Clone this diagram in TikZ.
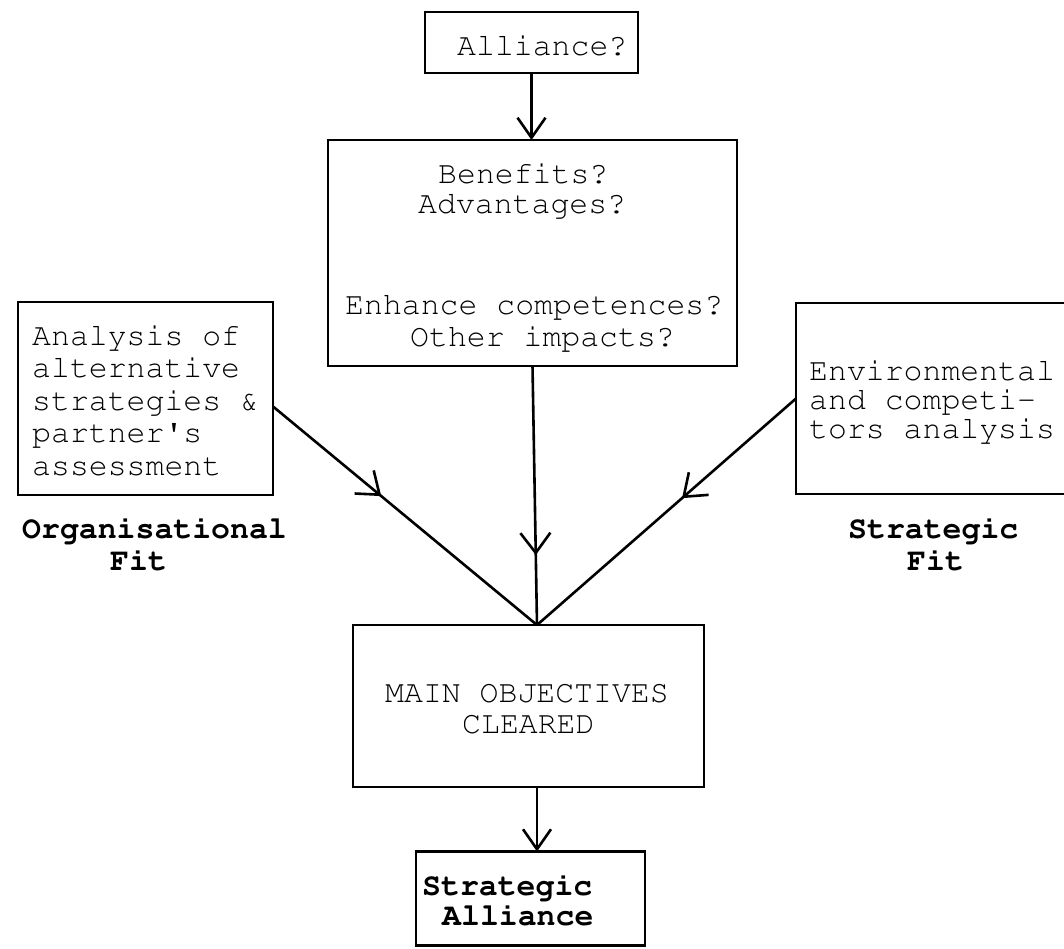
\documentclass[tikz,border=0pt]{standalone}
\usepackage[T1]{fontenc}
\newcommand{\cour}{\fontfamily{pcr}\selectfont}
\usetikzlibrary{arrows.meta,decorations.markings}

\tikzset{
  box/.style={draw, line width=2.6pt, inner sep=0pt, outer sep=0pt},
  txt/.style={font=\cour\fontsize{31.5}{31.5}\selectfont, inner sep=0pt, anchor=base west},
  lbl/.style={txt, font=\cour\bfseries\fontsize{31.5}{31.5}\selectfont},
  wire/.style={line width=2.6pt},
  endarrow/.style={wire, -{Straight Barb[length=20pt, width=28pt]}},
  midarrow/.style={wire, decoration={markings,
      mark=at position #1 with {\arrow{Straight Barb[length=20pt, width=30pt]}}},
      postaction={decorate}},
}

\begin{document}
\begin{tikzpicture}[x=1pt, y=-1pt]
  \useasboundingbox (0,0) rectangle (1064,948);
  \clip (0,0) rectangle (1064,948);

  % boxes
  \node[box, minimum width=213pt, minimum height=61pt]  (alliance) at (531.5,42.5) {};
  \node[box, minimum width=409pt, minimum height=226pt] (benefits) at (532.5,253) {};
  \node[box, minimum width=255pt, minimum height=193pt] (orgbox)   at (145.5,398.5) {};
  \node[box, minimum width=289pt, minimum height=191pt] (stratbox) at (940.5,398.5) {};
  \node[box, minimum width=351pt, minimum height=162pt] (mainbox)  at (528.5,706) {};
  \node[box, minimum width=229pt, minimum height=94pt]  (final)    at (530.5,898.5) {};

  % texts
  \node[txt] (tAlliance) at (457,55) {Alliance?};

  \node[txt] (tBen)   at (438,183) {Benefits?};
  \node[txt] (tAdv)   at (418,213) {Advantages?};
  \node[txt] (tEnh)   at (345,314) {Enhance competences?};
  \node[txt] (tOther) at (410,346) {Other impacts?};

  \node[txt] (tOrg1) at (32,345) {Analysis of};
  \node[txt] (tOrg2) at (32,377) {alternative};
  \node[txt] (tOrg3) at (32,410) {strategies \&};
  \node[txt] (tOrg4) at (32,442) {partner\textquotesingle s};
  \node[txt] (tOrg5) at (32,475) {assessment};

  \node[txt] (tEnv1) at (809,380) {Environmental};
  \node[txt] (tEnv2) at (809,409) {and competi-};
  \node[txt] (tEnv3) at (809,438) {tors analysis};

  \node[lbl] (lOrg1) at (22,538)  {Organisational};
  \node[lbl] (lOrg2) at (110,570) {Fit};
  \node[lbl] (lStr1) at (848,538) {Strategic};
  \node[lbl] (lStr2) at (907,570) {Fit};

  \node[txt] (tMain1) at (385,702) {MAIN OBJECTIVES};
  \node[txt] (tMain2) at (462,733) {CLEARED};

  \node[lbl] (tFin1) at (422,895) {Strategic};
  \node[lbl] (tFin2) at (442,925) {Alliance};

  % connectors
  \coordinate (join) at (537,625);
  \draw[endarrow] (alliance.south) -- (alliance.south |- benefits.north);
  \draw[midarrow=0.73] (benefits.south) -- (join);
  \draw[midarrow=0.41] ([yshift=-8pt]orgbox.east) -- (join);
  \draw[midarrow=0.44] (stratbox.west) -- (join);
  \draw[endarrow] (join |- mainbox.south) -- (join |- final.north);
\end{tikzpicture}
\end{document}
